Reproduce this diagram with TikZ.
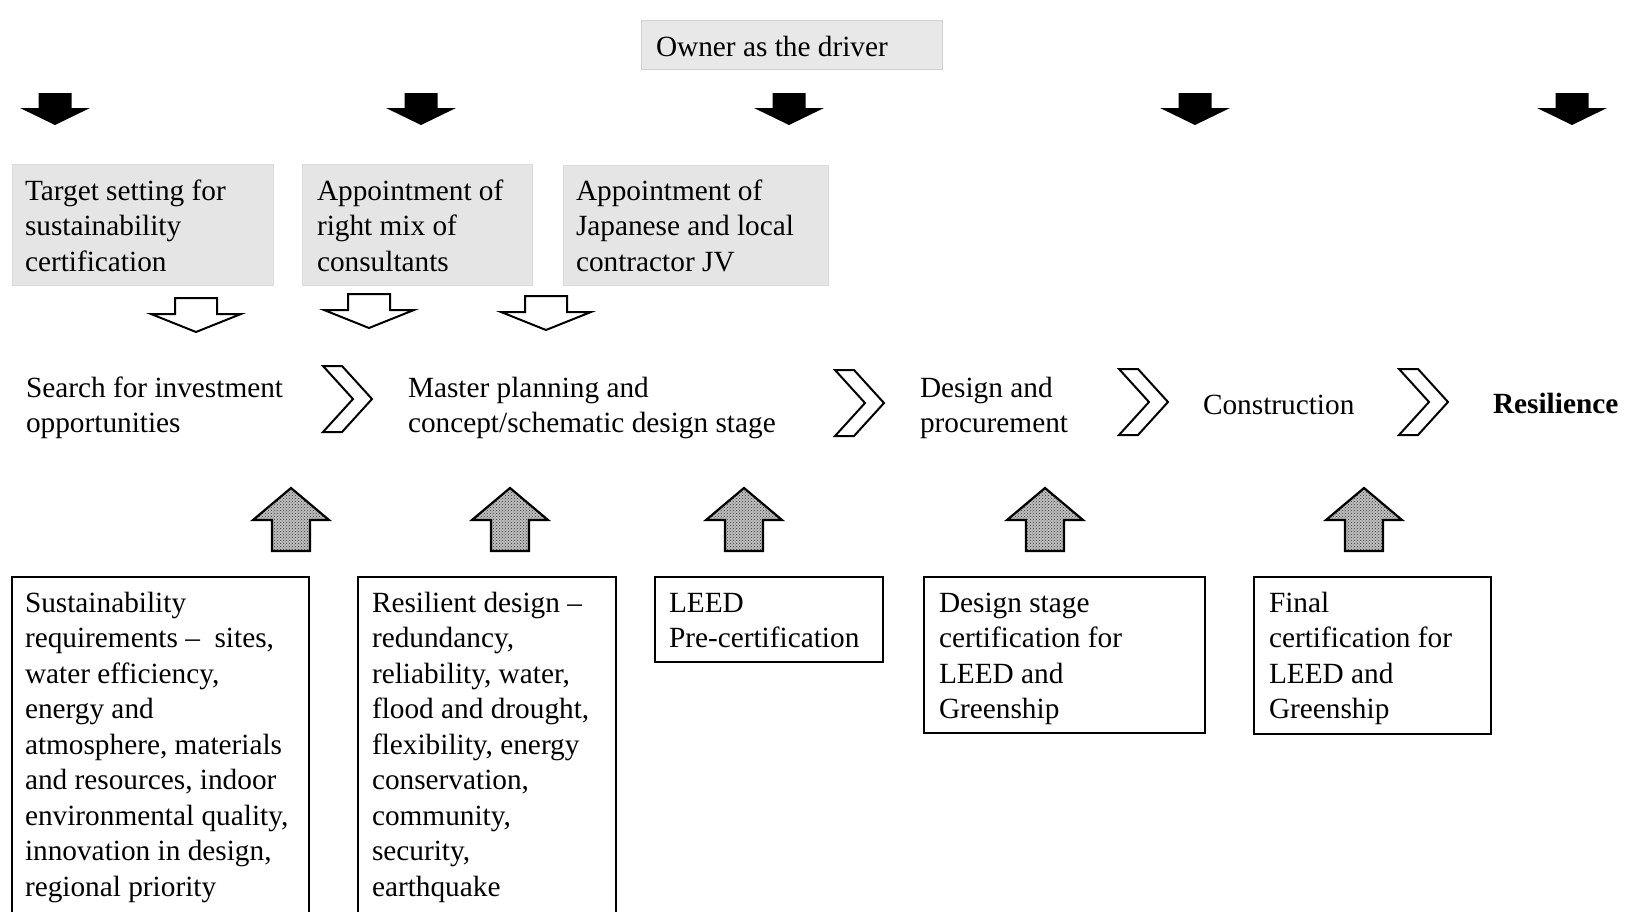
\documentclass[tikz,border=0pt]{standalone}
\usepackage{fontspec}
\setmainfont{Liberation Serif}
\usetikzlibrary{patterns}
\begin{document}
\begin{tikzpicture}[x=1pt,y=-1pt,
  every node/.style={inner sep=0pt, outer sep=0pt},
  txt/.style={anchor=base west, font=\fontsize{29.3}{35.5}\selectfont},
  graybox/.style={anchor=north west, fill=black!10, draw=black!14, line width=0.8pt},
  ownerbox/.style={anchor=north west, fill=black!9, draw=black!18, line width=0.8pt},
  whitebox/.style={anchor=north west, fill=white, draw=black, line width=2pt},
  pics/blackdown/.style={code={
    \fill[black] (-16.5,0) -- (16.5,0) -- (16.5,15) -- (35,15) -- (0,32) -- (-35,15) -- (-16.5,15) -- cycle;}},
  pics/hollowdown/.style={code={
    \filldraw[fill=white, draw=black, line width=2pt, line join=miter]
      (-21,0) -- (21,0) -- (21,16) -- (45,16) -- (0,34) -- (-45,16) -- (-21,16) -- cycle;}},
  pics/dotup/.style={code={
    \fill[black!25] (0,0) -- (38,32) -- (19,32) -- (19,63) -- (-19,63) -- (-19,32) -- (-38,32) -- cycle;
    \fill[pattern=crosshatch dots, pattern color=black!80] (0,0) -- (38,32) -- (19,32) -- (19,63) -- (-19,63) -- (-19,32) -- (-38,32) -- cycle;
    \draw[black, line width=2.2pt, line join=miter] (0,0) -- (38,32) -- (19,32) -- (19,63) -- (-19,63) -- (-19,32) -- (-38,32) -- cycle;}},
  pics/chev/.style={code={
    \filldraw[fill=white, draw=black, line width=2pt, line join=miter]
      (0,0) -- (19,0) -- (49,33) -- (19,66) -- (0,66) -- (30,33) -- cycle;}}
]
\useasboundingbox (0,0) rectangle (1632,911);
\clip (0,0) rectangle (1632,911);

% Owner
\node[ownerbox, minimum width=301pt, minimum height=49pt] (owner) at (641,20) {};
\node[txt] (ownert) at (656,56) {Owner as the driver};

% black down arrows
\foreach \cx/\nm in {55/k1,421/k2,789/k3,1195/k4,1572/k5}
  \pic (\nm) at (\cx,93) {blackdown};

% gray boxes
\node[graybox, minimum width=261pt, minimum height=121pt] (g1) at (12,164) {};
\node[graybox, minimum width=230pt, minimum height=121pt] (g2) at (302,164) {};
\node[graybox, minimum width=265pt, minimum height=120pt] (g3) at (563,165) {};
\node[txt] (g1t) at (25,200) {\parbox[t]{260pt}{\raggedright Target setting for\\sustainability\\certification}};
\node[txt] (g2t) at (317,200) {\parbox[t]{230pt}{\raggedright Appointment of\\right mix of\\consultants}};
\node[txt] (g3t) at (576,200) {\parbox[t]{260pt}{\raggedright Appointment of\\Japanese and local\\contractor JV}};

% hollow down arrows
\pic (h1) at (196,298) {hollowdown};
\pic (h2) at (369,294) {hollowdown};
\pic (h3) at (546,296) {hollowdown};

% process row
\node[txt] (s1) at (26,397) {\parbox[t]{300pt}{\raggedright Search for investment\\opportunities}};
\pic (c1) at (323,366) {chev};
\node[txt] (s2) at (408,397) {\parbox[t]{420pt}{\raggedright Master planning and\\concept/schematic design stage}};
\pic (c2) at (835,370) {chev};
\node[txt] (s3) at (920,397) {\parbox[t]{200pt}{\raggedright Design and\\procurement}};
\pic (c3) at (1119,369) {chev};
\node[txt] (s4) at (1203,414) {Construction};
\pic (c4) at (1399,369) {chev};
\node[txt, font=\fontsize{29.3}{35.5}\selectfont\bfseries] (s5) at (1493,413) {Resilience};

% dotted up arrows
\foreach \cx/\nm in {291/u1,510/u2,744/u3,1045/u4,1364/u5}
  \pic (\nm) at (\cx,488) {dotup};

% bottom boxes
\node[whitebox, minimum width=297pt, minimum height=380pt] (b1) at (12,577) {};
\node[whitebox, minimum width=258pt, minimum height=380pt] (b2) at (358,577) {};
\node[whitebox, minimum width=228pt, minimum height=85pt] (b3) at (655,577) {};
\node[whitebox, minimum width=281pt, minimum height=156pt] (b4) at (924,577) {};
\node[whitebox, minimum width=237pt, minimum height=157pt] (b5) at (1254,577) {};

\node[txt] (b1t) at (25,612) {\parbox[t]{290pt}{\raggedright Sustainability\\requirements --\ \ sites,\\water efficiency,\\energy and\\atmosphere, materials\\and resources, indoor\\environmental quality,\\innovation in design,\\regional priority}};
\node[txt] (b2t) at (372,612) {\parbox[t]{250pt}{\raggedright Resilient design --\\redundancy,\\reliability, water,\\flood and drought,\\flexibility, energy\\conservation,\\community,\\security,\\earthquake}};
\node[txt] (b3t) at (669,612) {\parbox[t]{220pt}{\raggedright LEED\\Pre-certification}};
\node[txt] (b4t) at (939,612) {\parbox[t]{270pt}{\raggedright Design stage\\certification for\\LEED and\\Greenship}};
\node[txt] (b5t) at (1269,612) {\parbox[t]{230pt}{\raggedright Final\\certification for\\LEED and\\Greenship}};
\end{tikzpicture}
\end{document}
